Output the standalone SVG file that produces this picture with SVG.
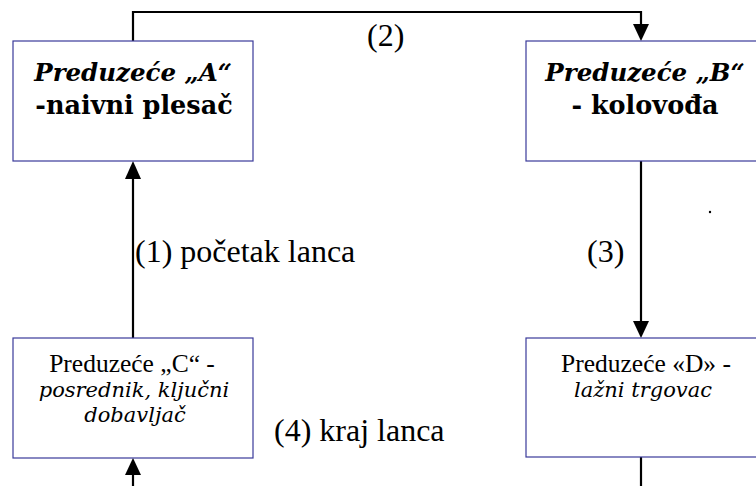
<svg xmlns="http://www.w3.org/2000/svg" width="756" height="486" viewBox="0 0 756 486">
  <defs>
    <style>
      .box { fill: #fff; stroke: #3a3a9a; stroke-width: 1.2; }
      .con { fill: none; stroke: #000; stroke-width: 2.2; }
      .head { fill: #000; }
      .t { font-family: "Liberation Serif", "Times New Roman", serif; fill: #000; }
      .d { font-family: "DejaVu Serif", serif; fill: #000; }
      .big1 { font-size: 24.5px; font-weight: bold; font-style: italic; text-anchor: middle; }
      .big2 { font-size: 25.5px; font-weight: bold; text-anchor: middle; }
      .sm { font-size: 25.5px; text-anchor: middle; }
      .smi { font-size: 21px; font-style: italic; text-anchor: middle; }
      .lbl { font-size: 32px; }
    </style>
  </defs>
  <rect width="756" height="486" fill="#fff"/>

  <g id="connectors">
    <path class="con" d="M133,41 V12 H641 V24"/>
    <path class="head" d="M633,24 L649,24 L641,41 Z"/>
    <path class="con" d="M133,338 V178"/>
    <path class="head" d="M125,179 L141,179 L133,161 Z"/>
    <path class="con" d="M641,161 V322"/>
    <path class="head" d="M633,321 L649,321 L641,338 Z"/>
    <path class="con" d="M133,486 V474"/>
    <path class="head" d="M125,475 L141,475 L133,458 Z"/>
    <path class="con" d="M641,457 V486"/>
  </g>

  <g id="nodeA">
    <rect class="box" x="13" y="41" width="240" height="120"/>
    <text class="d big1" x="133" y="81">Preduzeće „A“</text>
    <text class="d big2" x="134" y="114">-naivni plesač</text>
  </g>

  <g id="nodeB">
    <rect class="box" x="526" y="41" width="240" height="120"/>
    <text class="d big1" x="645" y="81">Preduzeće „B“</text>
    <text class="d big2" x="645" y="114">- kolovođa</text>
  </g>

  <g id="nodeC">
    <rect class="box" x="13" y="338" width="240" height="120"/>
    <text class="t sm" x="132" y="372">Preduzeće „C“ -</text>
    <text class="d smi" x="134" y="397">posrednik, ključni</text>
    <text class="d smi" x="135" y="422">dobavljač</text>
  </g>

  <g id="nodeD">
    <rect class="box" x="526" y="338" width="240" height="119"/>
    <text class="t sm" x="646" y="372">Preduzeće «D» -</text>
    <text class="d smi" x="643" y="397" font-size="22.5">lažni trgovac</text>
  </g>

  <g id="labels">
    <text class="t lbl" x="367" y="46">(2)</text>
    <text class="t lbl" x="135" y="262">(1) početak lanca</text>
    <text class="t lbl" x="587" y="262">(3)</text>
    <text class="t lbl" x="274" y="441">(4) kraj lanca</text>
  </g>

  <circle cx="710" cy="212" r="1.2" fill="#000"/>
</svg>
